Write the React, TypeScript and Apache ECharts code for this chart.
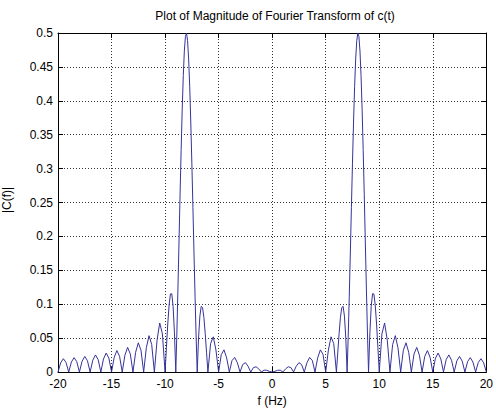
import React, { useEffect, useRef } from "react";
import * as echarts from "echarts";

// Frequencies (Hz) and |C(f)|, negative side
const negFreq = [
  -20, -19.75, -19.5, -19.25, -19, -18.75, -18.5, -18.25, -18, -17.75, -17.5, -17.25, -17,
  -16.75, -16.5, -16.25, -16, -15.75, -15.5, -15.25, -15, -14.75, -14.5, -14.25, -14,
  -13.75, -13.5, -13.25, -13, -12.75, -12.5, -12.25, -12, -11.75, -11.5, -11.25, -11,
  -10.75, -10.5, -10.25, -10, -9.875, -9.75, -9.625, -9.5, -9.375, -9.25, -9.125, -9,
  -8.9, -8.8, -8.7, -8.6, -8.5, -8.4, -8.3, -8.2, -8.1, -8, -7.9, -7.8, -7.7, -7.6, -7.5,
  -7.4, -7.3, -7.2, -7.1, -7, -6.875, -6.75, -6.625, -6.5, -6.375, -6.25, -6.125, -6,
  -5.75, -5.5, -5.25, -5, -4.75, -4.5, -4.25, -4, -3.75, -3.5, -3.25, -3, -2.75, -2.5,
  -2.25, -2, -1.75, -1.5, -1.25, -1, -0.75, -0.5, -0.25,
];
const negMag = [
  0, 0.0136, 0.0196, 0.0141, 0, 0.0147, 0.0212, 0.0153, 0, 0.0159, 0.023, 0.0166, 0,
  0.0174, 0.0252, 0.0183, 0, 0.0193, 0.028, 0.0204, 0, 0.0216, 0.0316, 0.0231, 0,
  0.0248, 0.0363, 0.0267, 0, 0.0291, 0.0431, 0.032, 0, 0.0357, 0.0536, 0.0405, 0,
  0.0469, 0.0723, 0.0562, 0, 0.0359, 0.0707, 0.0988, 0.1152, 0.1154, 0.0966, 0.0577, 0,
  0.0576, 0.1225, 0.1917, 0.2614, 0.328, 0.3876, 0.4371, 0.4735, 0.4949, 0.5, 0.4887,
  0.4618, 0.421, 0.3687, 0.308, 0.2424, 0.1755, 0.1108, 0.0514, 0, 0.05, 0.0824, 0.0969,
  0.0951, 0.0803, 0.0564, 0.0282, 0, 0.0418, 0.0519, 0.0324, 0, 0.0258, 0.0327, 0.0208,
  0, 0.0169, 0.0215, 0.0137, 0, 0.011, 0.0138, 0.0086, 0, 0.0065, 0.0077, 0.0045, 0,
  0.0027, 0.0025, 0.0009,
];
// positive side
const posFreq = [
  0, 0.25, 0.5, 0.75, 1, 1.25, 1.5, 1.75, 2, 2.25, 2.5, 2.75, 3, 3.25, 3.5, 3.75, 4,
  4.25, 4.5, 4.75, 5, 5.25, 5.5, 5.75, 6, 6.125, 6.25, 6.375, 6.5, 6.625, 6.75, 6.875, 7,
  7.1, 7.2, 7.3, 7.4, 7.5, 7.6, 7.7, 7.8, 7.9, 8, 8.1, 8.2, 8.3, 8.4, 8.5, 8.6, 8.7, 8.8,
  8.9, 9, 9.125, 9.25, 9.375, 9.5, 9.625, 9.75, 9.875, 10, 10.25, 10.5, 10.75, 11, 11.25,
  11.5, 11.75, 12, 12.25, 12.5, 12.75, 13, 13.25, 13.5, 13.75, 14, 14.25, 14.5, 14.75, 15,
  15.25, 15.5, 15.75, 16, 16.25, 16.5, 16.75, 17, 17.25, 17.5, 17.75, 18, 18.25, 18.5,
  18.75, 19, 19.25, 19.5, 19.75, 20,
];
const posMag = [
  0, 0.0009, 0.0025, 0.0027, 0, 0.0045, 0.0077, 0.0065, 0, 0.0086, 0.0138, 0.011, 0,
  0.0137, 0.0215, 0.0169, 0, 0.0208, 0.0327, 0.0258, 0, 0.0324, 0.0519, 0.0418, 0,
  0.0282, 0.0564, 0.0803, 0.0951, 0.0969, 0.0824, 0.05, 0, 0.0514, 0.1108, 0.1755,
  0.2424, 0.308, 0.3687, 0.421, 0.4618, 0.4887, 0.5, 0.4949, 0.4735, 0.4371, 0.3876,
  0.328, 0.2614, 0.1917, 0.1225, 0.0576, 0, 0.0577, 0.0966, 0.1154, 0.1152, 0.0988,
  0.0707, 0.0359, 0, 0.0562, 0.0723, 0.0469, 0, 0.0405, 0.0536, 0.0357, 0, 0.032, 0.0431,
  0.0291, 0, 0.0267, 0.0363, 0.0248, 0, 0.0231, 0.0316, 0.0216, 0, 0.0204, 0.028, 0.0193,
  0, 0.0183, 0.0252, 0.0174, 0, 0.0166, 0.023, 0.0159, 0, 0.0153, 0.0212, 0.0147, 0,
  0.0141, 0.0196, 0.0136, 0,
];

const xTicks = { min: -20, max: 20, interval: 5 };
const yTicks = { min: 0, max: 0.5, interval: 0.05 };

const TITLE = "Plot of Magnitude of Fourier Transform of c(t)";
const X_NAME = "f (Hz)";
const Y_NAME = "|C(f)|";

export default function App() {
  const ref = useRef<HTMLDivElement>(null);
  useEffect(() => {
    if (!ref.current) return;
    const chart = echarts.init(ref.current, undefined, { renderer: "svg" });
    const data: [number, number][] = [];
    negFreq.forEach((f, i) => data.push([f, negMag[i]]));
    posFreq.forEach((f, i) => data.push([f, posMag[i]]));
    const font = "'Liberation Sans', Arial, sans-serif";
    const gridLine = { show: true, lineStyle: { color: "#333", type: [1, 2] as any, width: 1 } };
    chart.setOption({
      animation: false,
      backgroundColor: "#fff",
      textStyle: { fontFamily: font },
      title: {
        text: TITLE,
        left: 275,
        top: 10,
        padding: 0,
        textAlign: "center",
        textStyle: { fontSize: 12, fontWeight: "normal", color: "#000", fontFamily: font },
      },
      grid: { left: 58, right: 4, top: 33, bottom: 37, containLabel: false },
      xAxis: [
        {
          type: "value",
          ...xTicks,
          position: "bottom",
          name: X_NAME,
          nameLocation: "middle",
          nameGap: 23,
          nameTextStyle: { fontSize: 12, color: "#000", fontFamily: font },
          axisLine: { show: true, onZero: false, lineStyle: { color: "#000", width: 1 } },
          axisTick: { show: true, inside: true, length: 5, lineStyle: { color: "#000" } },
          axisLabel: { fontSize: 12, color: "#000", margin: 6, fontFamily: font },
          splitLine: gridLine,
        },
        {
          type: "value",
          ...xTicks,
          position: "top",
          axisLine: { show: true, onZero: false, lineStyle: { color: "#000", width: 1 } },
          axisTick: { show: true, inside: true, length: 5, lineStyle: { color: "#000" } },
          axisLabel: { show: false },
          splitLine: { show: false },
        },
      ],
      yAxis: [
        {
          type: "value",
          ...yTicks,
          position: "left",
          axisLine: { show: true, onZero: false, lineStyle: { color: "#000", width: 1 } },
          axisTick: { show: true, inside: true, length: 5, lineStyle: { color: "#000" } },
          axisLabel: { fontSize: 12, color: "#000", margin: 5, fontFamily: font },
          splitLine: gridLine,
        },
        {
          type: "value",
          ...yTicks,
          position: "right",
          axisLine: { show: true, onZero: false, lineStyle: { color: "#000", width: 1 } },
          axisTick: { show: true, inside: true, length: 5, lineStyle: { color: "#000" } },
          axisLabel: { show: false },
          splitLine: { show: false },
        },
      ],
      graphic: [
        {
          type: "text",
          x: 7,
          y: 200,
          rotation: Math.PI / 2,
          style: {
            text: Y_NAME,
            fontSize: 12,
            fill: "#000",
            fontFamily: font,
            align: "center",
            verticalAlign: "middle",
          },
        },
      ],
      series: [
        {
          type: "line",
          xAxisIndex: 0,
          yAxisIndex: 0,
          data,
          showSymbol: false,
          symbol: "none",
          lineStyle: { color: "#34349a", width: 1 },
          clip: true,
        },
      ],
    });
    return () => chart.dispose();
  }, []);
  return (
    <div
      ref={ref}
      style={{ position: "fixed", left: 0, top: 0, width: 496, height: 412, background: "#fff" }}
    />
  );
}
